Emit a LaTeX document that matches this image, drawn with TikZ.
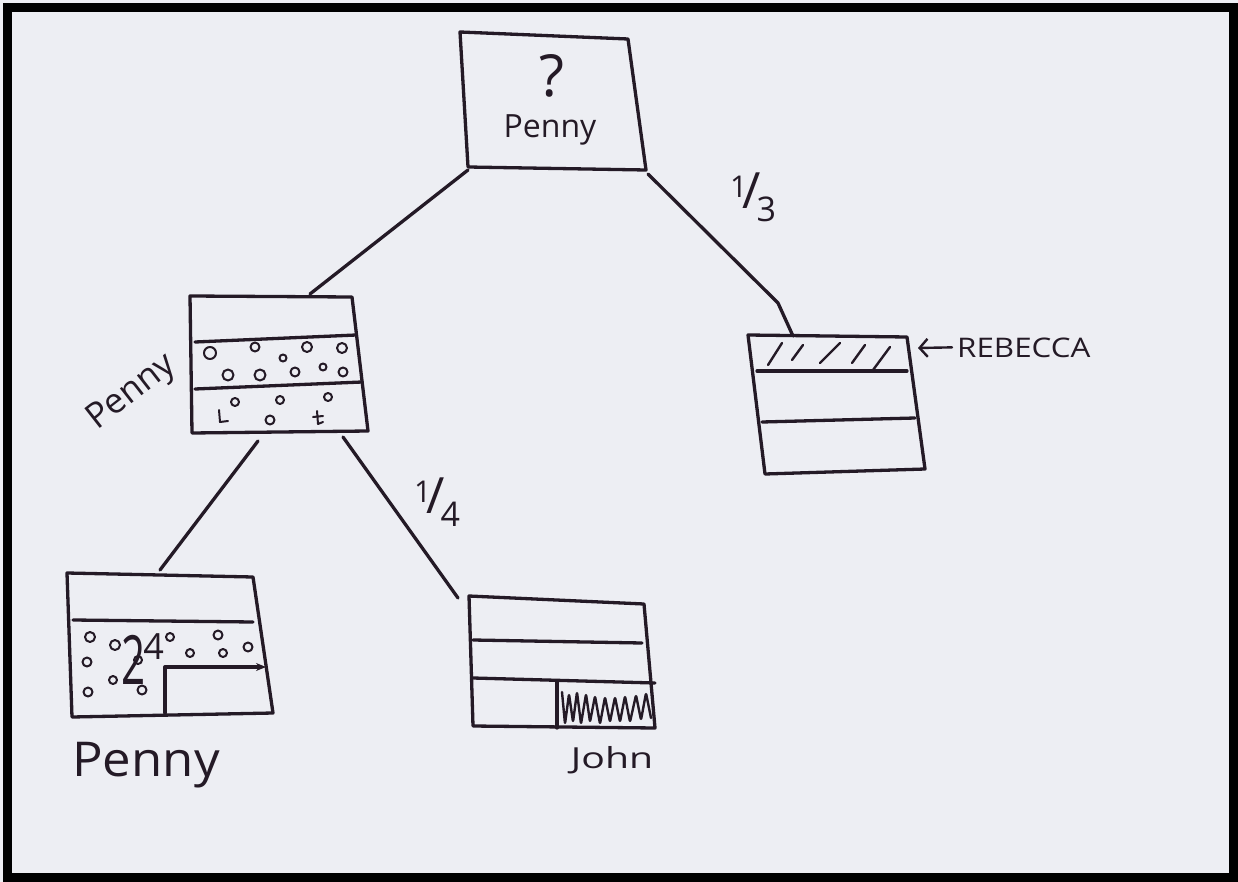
\documentclass[tikz,border=0pt]{standalone}
\usepackage{fontspec}
\setmainfont{Open Sans}
\usetikzlibrary{arrows.meta}
\definecolor{paper}{RGB}{237,238,243}
\definecolor{ink}{RGB}{36,26,38}
\begin{document}
\begin{tikzpicture}[x=1pt,y=-1pt,line cap=round,line join=round,
  pen/.style={draw=ink,line width=3.3pt},
  fine/.style={draw=ink,line width=2.4pt},
  dot/.style={draw=ink,line width=2pt},
  hand/.style={text=ink,inner sep=0pt}]
\useasboundingbox (0,0) rectangle (1238,882);
\fill[paper] (0,0) rectangle (1238,882);
\draw[black,line width=9pt,line cap=butt,line join=miter] (7.5,7.5) rectangle (1233.5,877.5);

% ---------- anchor points of the boxes ----------
\coordinate (rootSW) at (468,170);
\coordinate (rootSE) at (648,174);
\coordinate (pennyN) at (310,294);
\coordinate (pennySW) at (258,441);
\coordinate (pennySE) at (343,437);
\coordinate (rebBend) at (778,303);
\coordinate (rebN) at (793,336);
\coordinate (rebE) at (918,348);
\coordinate (leafLN) at (160,570);
\coordinate (leafRN) at (458,598);

% ---------- root box ----------
\draw[pen] (460,32) -- (628,39) -- (646,170) -- (468,167) -- cycle;
\node[hand,font=\fontsize{58}{58}\selectfont] (q) at (552,76) {?};
\node[hand,font=\fontsize{32}{32}\selectfont,anchor=base] (rootname) at (550,138) {Penny};

% ---------- branches ----------
\draw[pen] (rootSW) -- (pennyN);
\draw[pen] (rootSE) -- (rebBend) -- (rebN);
\draw[pen] (pennySW) -- (leafLN);
\draw[pen] (pennySE) -- (leafRN);

% branch weights
\node[hand] (third) at (753,197) {\raisebox{11pt}{\fontsize{30}{30}\selectfont 1}\kern-5pt{\fontsize{50}{50}\selectfont /}\kern-4pt\raisebox{-13pt}{\fontsize{34}{34}\selectfont 3}};
\node[hand] (quarter) at (437,502) {\raisebox{11pt}{\fontsize{30}{30}\selectfont 1}\kern-5pt{\fontsize{50}{50}\selectfont /}\kern-4pt\raisebox{-13pt}{\fontsize{34}{34}\selectfont 4}};

% ---------- middle box (Penny) ----------
\draw[pen] (190,296) -- (352,297) -- (368,431) -- (192,433) -- cycle;
\draw[pen] (195,342) -- (356,335);
\draw[pen] (195,389) -- (362,382);
\foreach \x/\y/\r in {210/353/6,255/347/4.5,307/347/5,342/348/5,283/358/3.5,
                      228/375/5.5,260/375/5.5,295/372/4.5,323/367/3.5,343/372/4.5,
                      235/402/4,280/400/4,328/397/4,270/420/4.5}
  \draw[dot] (\x,\y) circle[radius=\r];
\draw[dot] (219,410) -- (220,422) -- (228,421);
\draw[dot] (317,411) -- (318,424) -- (323,422) (313,417) -- (323,416);
\node[hand,font=\fontsize{35}{35}\selectfont,rotate=38,anchor=base west] (midname) at (97,431) {Penny};

% ---------- right box (Rebecca) ----------
\draw[pen] (748,335) -- (907,337) -- (925,469) -- (765,474) -- cycle;
\draw[pen] (757,371) -- (907,371);
\draw[pen] (762,422) -- (915,418);
\draw[fine] (768,365) -- (782,343)  (792,360) -- (803,345)  (820,363) -- (840,343)
            (852,363) -- (865,345)  (873,370) -- (890,347);
\node[hand,font=\fontsize{27}{27}\selectfont,anchor=base west] (rebecca) at (957,357) {\scalebox{1.16}[1]{REBECCA}};
\draw[fine,-{Straight Barb[length=8pt,width=18pt]}] (rebecca.west) ++(-5,0) -- (rebE);

% ---------- bottom-left box (Penny) ----------
\draw[pen] (67,573) -- (253,577) -- (273,713) -- (72,717) -- cycle;
\draw[pen] (73,620) -- (253,622);
\draw[pen,-{Stealth[length=10pt,width=8pt]}] (165,713) -- (165,667) -- (266,667);
\foreach \x/\y/\r in {90/637/5,87/662/4.5,88/692/4.5,115/645/5,138/660/4,113/680/4,
                      142/690/4.5,170/637/4,190/653/4,218/635/4.5,223/653/4,248/647/4.5}
  \draw[dot] (\x,\y) circle[radius=\r];
\node[hand,anchor=base west] (count) at (121,684) {\scalebox{0.62}[1]{\fontsize{68}{68}\selectfont 2}\kern-2pt\raisebox{25pt}{\fontsize{36}{36}\selectfont 4}};
\node[hand,font=\fontsize{48}{48}\selectfont,anchor=base] (leftname) at (146,776) {\scalebox{1.06}[1]{Penny}};

% ---------- bottom-right box (John) ----------
\draw[pen] (469,596) -- (644,604) -- (655,728) -- (473,726) -- cycle;
\draw[pen] (473,640) -- (642,643);
\draw[pen] (473,678) -- (655,683);
\draw[pen] (557,682) -- (557,728);
\draw[fine,rounded corners=2pt] (562,692) -- (565,724) -- (569,694) -- (573,722) -- (577,692)
  -- (581,724) -- (586,694) -- (590,722) -- (595,696) -- (600,724) -- (605,697)
  -- (610,722) -- (615,697) -- (620,722) -- (625,696) -- (630,722) -- (636,695)
  -- (641,720) -- (646,693) -- (651,718);
\node[hand,font=\fontsize{29}{29}\selectfont,anchor=base] (rightname) at (612,768) {\scalebox{1.35}[1]{John}};
\end{tikzpicture}
\end{document}
